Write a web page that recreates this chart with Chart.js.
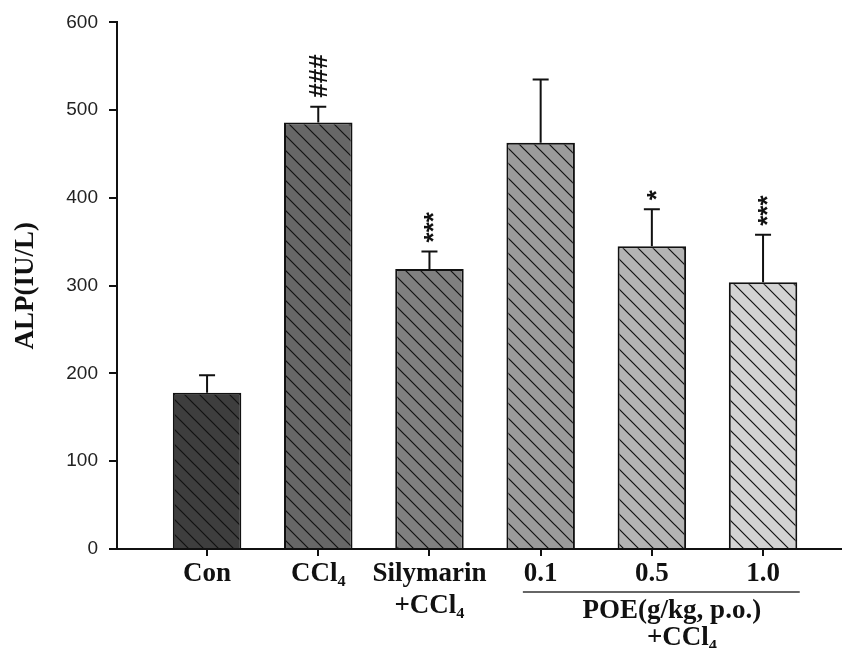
<!DOCTYPE html>
<html>
<head>
<meta charset="utf-8">
<script src="https://cdn.jsdelivr.net/npm/chart.js@4.4.0/dist/chart.umd.min.js"></script>
<style>
  html, body { margin: 0; padding: 0; background: #fff; }
  #wrap { width: 842px; height: 648px; }
</style>
</head>
<body>
<div id="wrap"><canvas id="alpChart" width="842" height="648"></canvas></div>
<script>
// ---------- data ----------
const groups = ['Con', 'CCl₄', ['Silymarin', '+CCl₄'], '0.1', '0.5', '1.0'];
const alpMean = [178, 486, 319, 463, 345, 304];
const alpSD = [20, 18, 20, 72, 42, 54];
const marks = ['', '###', '***', '', '*', '***'];
const yTicks = [0, 100, 200, 300, 400, 500, 600];
const poeTitle = ['POE(g/kg, p.o.)', '+CCl₄'];

// ---------- look ----------
const shades = ['#3e3e3e', '#676767', '#808080', '#9b9b9b', '#b4b4b4', '#d3d3d3'];
const ink = '#111';
const serif = 'Liberation Serif';

// diagonal "\" hatch over a grey fill
function hatch(color) {
  const c = document.createElement('canvas');
  c.width = 15; c.height = 15;
  const g = c.getContext('2d');
  g.fillStyle = color;
  g.fillRect(0, 0, 15, 15);
  g.strokeStyle = ink;
  g.lineWidth = 1.2;
  g.beginPath();
  g.moveTo(-2, -2); g.lineTo(17, 17);
  g.moveTo(-2, 13); g.lineTo(2, 17);
  g.moveTo(13, -2); g.lineTo(17, 2);
  g.stroke();
  return g.createPattern(c, 'repeat');
}

// upper error bars + significance marks
const errorBars = {
  id: 'errorBars',
  afterDatasetsDraw(chart) {
    const { ctx, scales: { x, y } } = chart;
    ctx.save();
    ctx.strokeStyle = ink;
    ctx.lineWidth = 2;
    alpMean.forEach((m, i) => {
      const px = x.getPixelForValue(i + 1);
      const base = y.getPixelForValue(m);
      const top = y.getPixelForValue(m + alpSD[i]);
      ctx.beginPath();
      ctx.moveTo(px, base); ctx.lineTo(px, top);
      ctx.moveTo(px - 8, top); ctx.lineTo(px + 8, top);
      ctx.stroke();
      if (marks[i]) {
        ctx.font = 'bold 26px "Liberation Sans"';
        ctx.fillStyle = ink;
        const mt = ctx.measureText(marks[i]);
        const yoff = (mt.actualBoundingBoxAscent - mt.actualBoundingBoxDescent) / 2;
        ctx.save();
        ctx.translate(px, top - 9);
        ctx.rotate(-Math.PI / 2);
        ctx.textAlign = 'left';
        ctx.textBaseline = 'alphabetic';
        ctx.fillText(marks[i], 0, yoff);
        ctx.restore();
      }
    });
    ctx.restore();
  }
};

// bracket line and group title under the POE doses
const poeGroup = {
  id: 'poeGroup',
  afterDraw(chart) {
    const { ctx, scales: { x } } = chart;
    const y0 = x.top;
    ctx.save();
    ctx.strokeStyle = '#333';
    ctx.lineWidth = 1.5;
    ctx.beginPath();
    ctx.moveTo(x.getPixelForValue(3.84), y0 + 43);
    ctx.lineTo(x.getPixelForValue(6.33), y0 + 43);
    ctx.stroke();
    ctx.fillStyle = ink;
    ctx.font = 'bold 27px "' + serif + '"';
    ctx.textAlign = 'center';
    ctx.textBaseline = 'middle';
    ctx.fillText(poeTitle[0], x.getPixelForValue(5.18), y0 + 62);
    ctx.fillText(poeTitle[1], x.getPixelForValue(5.27), y0 + 89);
    ctx.restore();
  }
};

const ctx = document.getElementById('alpChart').getContext('2d');
new Chart(ctx, {
  type: 'bar',
  data: {
    datasets: [{
      data: alpMean.map((v, i) => ({ x: i + 1, y: v })),
      backgroundColor: shades.map(hatch),
      borderColor: ink,
      borderWidth: 2,
      barPercentage: 0.77,
      categoryPercentage: 0.8
    }]
  },
  options: {
    responsive: false,
    animation: false,
    layout: { padding: { top: 22, left: 0, right: 0, bottom: 0 } },
    plugins: { legend: { display: false }, tooltip: { enabled: false } },
    scales: {
      x: {
        type: 'linear',
        offset: false,
        min: 0.19,
        max: 6.71,
        afterBuildTicks: s => { s.ticks = groups.map((g, i) => ({ value: i + 1 })); },
        afterFit: s => { s.height = 99; },
        ticks: {
          callback: v => groups[Math.round(v) - 1],
          font: { family: serif, size: 27, weight: 'bold', lineHeight: 1.18 },
          color: ink,
          padding: 2,
          maxRotation: 0,
          autoSkip: false
        },
        grid: { offset: false, drawOnChartArea: false, drawTicks: true, tickLength: 7, color: ink, lineWidth: 2 },
        border: { color: ink, width: 2 }
      },
      y: {
        min: 0,
        max: 600,
        afterBuildTicks: s => { s.ticks = yTicks.map(v => ({ value: v })); },
        afterFit: s => { s.width = 117; },
        ticks: { font: { family: 'Liberation Sans', size: 19 }, color: '#222', padding: 11 },
        grid: { drawOnChartArea: false, drawTicks: true, tickLength: 8, color: ink, lineWidth: 2 },
        border: { color: ink, width: 2 },
        title: {
          display: true,
          text: 'ALP(IU/L)',
          font: { family: serif, size: 27, weight: 'bold' },
          color: ink,
          padding: { top: 10, bottom: 0 }
        }
      }
    }
  },
  plugins: [errorBars, poeGroup]
});
</script>
</body>
</html>
